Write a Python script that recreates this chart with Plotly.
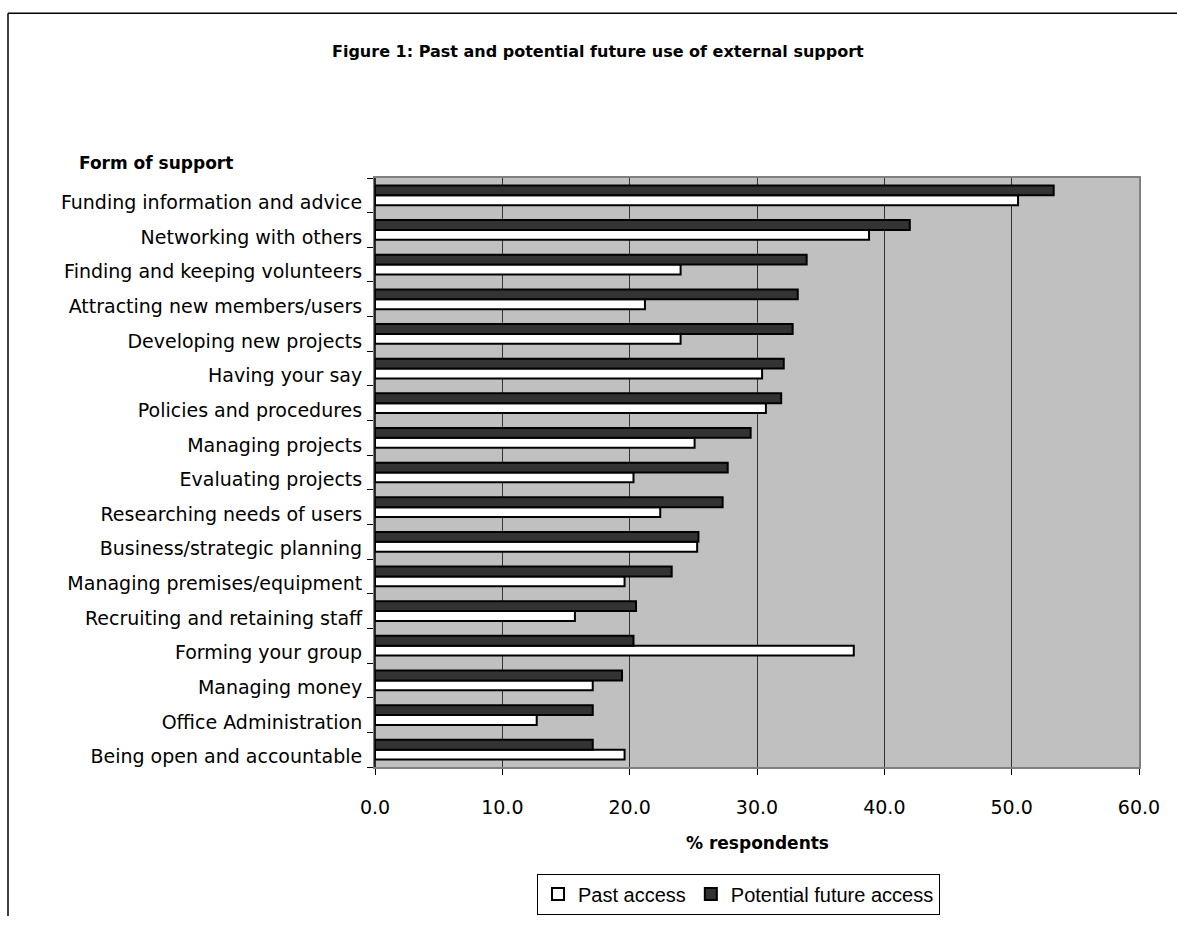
import plotly.graph_objects as go

# Support categories, listed bottom-to-top as they appear on the axis
categories = [
    "Being open and accountable",
    "Office Administration",
    "Managing money",
    "Forming your group",
    "Recruiting and retaining staff",
    "Managing premises/equipment",
    "Business/strategic planning",
    "Researching needs of users",
    "Evaluating projects",
    "Managing projects",
    "Policies and procedures",
    "Having your say",
    "Developing new projects",
    "Attracting new members/users",
    "Finding and keeping volunteers",
    "Networking with others",
    "Funding information and advice",
]

# % respondents
past_access = [19.6, 12.7, 17.1, 37.6, 15.7, 19.6, 25.3, 22.4, 20.3, 25.1,
               30.7, 30.4, 24.0, 21.2, 24.0, 38.8, 50.5]
future_access = [17.1, 17.1, 19.4, 20.3, 20.5, 23.3, 25.4, 27.3, 27.7, 29.5,
                 31.9, 32.1, 32.8, 33.2, 33.9, 42.0, 53.3]

x_ticks = [0, 10, 20, 30, 40, 50, 60]
x_tick_labels = ["0.0", "10.0", "20.0", "30.0", "40.0", "50.0", "60.0"]

W, H = 1177, 926
ML, MR, MT, MB = 375, 38, 178, 151
PW, PH = W - ML - MR, H - MT - MB


def px_x(px):
    return (px - ML) / PW


def px_y(py):
    return (H - MB - py) / PH


fig = go.Figure()
fig.add_trace(go.Bar(
    y=categories, x=past_access, orientation="h", name="Past access",
    marker=dict(color="#ffffff", line=dict(color="#000000", width=2)),
))
fig.add_trace(go.Bar(
    y=categories, x=future_access, orientation="h", name="Potential future access",
    marker=dict(color="#333333", line=dict(color="#000000", width=2)),
))

font_main = "DejaVu Sans"

fig.update_layout(
    width=W, height=H,
    margin=dict(l=ML, r=MR, t=MT, b=MB),
    paper_bgcolor="#ffffff",
    plot_bgcolor="#c0c0c0",
    barmode="group",
    bargap=0.43,
    bargroupgap=0,
    font=dict(family=font_main, size=19, color="#000000"),
    showlegend=True,
    legend=dict(
        orientation="h",
        x=px_x(537), y=px_y(883), xanchor="left", yanchor="top",
        bgcolor="#ffffff", bordercolor="#000000", borderwidth=1,
        font=dict(family="Liberation Sans", size=20),
        itemwidth=30, tracegroupgap=0,
    ),
    xaxis=dict(
        range=[0, 60], tickvals=x_ticks, ticktext=x_tick_labels,
        showgrid=True, gridcolor="#333333", gridwidth=1,
        zeroline=False, ticks="outside", ticklen=6, tickcolor="#000000",
        showline=True, linecolor="#808080", linewidth=2, mirror=True,
        tickfont=dict(size=19), ticklabelstandoff=16, fixedrange=True,
    ),
    yaxis=dict(
        type="category", categoryorder="array", categoryarray=categories,
        showgrid=False, ticks="outside", ticklen=6, tickcolor="#000000",
        tickson="boundaries",
        showline=True, linecolor="#808080", linewidth=2, mirror=True,
        tickfont=dict(size=19), ticklabelstandoff=7, ticklabelshift=7,
        fixedrange=True,
    ),
    annotations=[
        dict(text="<b>Figure 1: Past and potential future use of external support</b>",
             xref="paper", yref="paper", x=px_x(598), y=px_y(50),
             xanchor="center", yanchor="middle", showarrow=False,
             font=dict(family=font_main, size=16)),
        dict(text="<b>Form of support</b>",
             xref="paper", yref="paper", x=px_x(77), y=px_y(163),
             xanchor="left", yanchor="middle", showarrow=False,
             font=dict(family=font_main, size=17)),
        dict(text="<b>% respondents</b>",
             xref="paper", yref="paper", x=0.5, y=px_y(852),
             xanchor="center", yanchor="middle", showarrow=False,
             font=dict(family=font_main, size=17)),
    ],
    shapes=[
        # frame around the whole figure (top and left edges)
        dict(type="line", xref="paper", yref="paper",
             x0=px_x(8), x1=px_x(W), y0=px_y(11), y1=px_y(11),
             line=dict(color="#000000", width=1.5)),
        dict(type="line", xref="paper", yref="paper",
             x0=px_x(8), x1=px_x(8), y0=px_y(11), y1=px_y(H),
             line=dict(color="#000000", width=1.5)),
        # left value axis line
        dict(type="line", xref="paper", yref="paper",
             x0=0, x1=0, y0=0, y1=1,
             line=dict(color="#000000", width=1.5)),
    ],
)

fig.write_html("out.html")
